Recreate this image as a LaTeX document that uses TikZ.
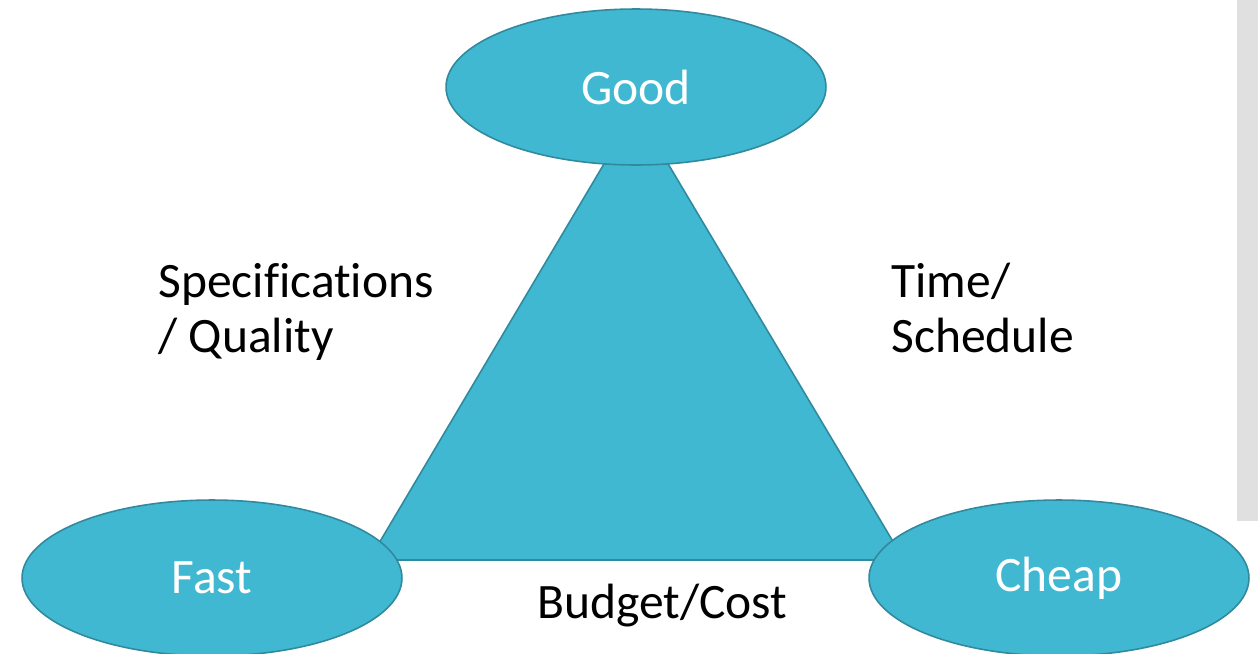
\documentclass[tikz,border=0pt]{standalone}
\usepackage{fontspec}
\setmainfont[Ligatures=NoCommon]{Carlito}
\usetikzlibrary{shapes,positioning,calc}

\definecolor{ovalfill}{RGB}{65,184,210}
\definecolor{ovaledge}{RGB}{49,137,158}
\definecolor{sidebar}{RGB}{224,224,224}

\begin{document}
\begin{tikzpicture}[
    x=0.02cm, y=-0.02cm,
    corner/.style={ellipse, draw=ovaledge, line width=0.9pt, fill=ovalfill, minimum width=7.6cm, minimum height=3.12cm, inner sep=0pt, text=white, font=\fontsize{28.2}{31.3}\selectfont},
    side/.style={draw=ovaledge, line width=0.9pt, fill=ovalfill},
    label/.style={inner sep=0pt, align=left, font=\fontsize{28.2}{31.3}\selectfont}
]

    % Page and side bar
    \useasboundingbox[fill=white] (0,0) rectangle (1258,653);
    \fill[sidebar] (1237,0) rectangle (1258,521);

    % Triangle
    \coordinate (apex) at (636,110);
    \coordinate (left) at (369,560);
    \coordinate (right) at (904,560);
    \draw[side] (apex) -- (left) -- (right) -- cycle;

    % Corners
    \node[corner] (good) at (636,87) {Good};
    \node[corner] (fast) at (212,578) {Fast};
    \node[corner] (cheap) at (1059,578) {Cheap};

    % Labels (base is the last line)
    \node[label, anchor=base west] (spec) at (158,352) {Specifications\\/ Quality};
    \node[label, anchor=base west] (time) at (891,352) {Time/\\Schedule};
    \node[label, anchor=base west] (budget) at (537,618) {Budget/Cost};

\end{tikzpicture}
\end{document}
